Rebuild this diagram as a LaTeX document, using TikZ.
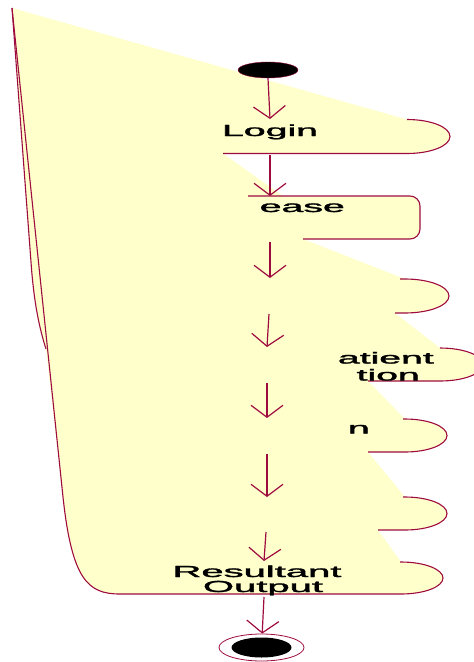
\documentclass[tikz,border=0pt]{standalone}
\usepackage{fontspec}
\setmainfont{Liberation Sans}
\newfontfamily\actfont{Liberation Sans}[FakeBold=1.6]
\usepackage{graphicx}
\usetikzlibrary{arrows.meta,shapes.geometric}
\definecolor{roseline}{HTML}{9E0B3F}
\definecolor{rosefill}{HTML}{FFFFCC}

\begin{document}
\begin{tikzpicture}[
  x=1pt,
  y=-1pt,
  actfill/.style={fill=rosefill},
  actedge/.style={draw=roseline, line width=1.1pt},
  flow/.style={draw=roseline, line width=1.2pt, -{Straight Barb[length=12pt, width=32pt]}},
  startdot/.style={ellipse, draw=roseline, fill=black, minimum width=60pt, minimum height=16pt, inner sep=0pt},
  endring/.style={ellipse, draw=roseline, fill=white, line width=0.8pt, minimum width=85pt, minimum height=27pt, inner sep=0pt},
  enddot/.style={ellipse, fill=black, minimum width=60pt, minimum height=20pt, inner sep=0pt},
  actlabel/.style={font=\actfont\fontsize{16}{16}\selectfont, inner sep=0pt}
]
\useasboundingbox (0,0) rectangle (474,662);

\fill[actfill] (12,8) -- (407,119.5)
  arc[start angle=90, end angle=-90, x radius=43pt, y radius=17pt]
  -- (223,153.5) -- (283,196) -- (410,196)
  arc[start angle=90, end angle=0, radius=10pt] -- (420,229)
  arc[start angle=0, end angle=-90, radius=10pt] -- (303,239) -- (405,279)
  arc[start angle=90, end angle=-90, x radius=44pt, y radius=17pt]
  -- (395,313) -- (440,348)
  arc[start angle=90, end angle=-90, x radius=43pt, y radius=16.5pt]
  -- (368,381) -- (405,419)
  arc[start angle=90, end angle=-90, x radius=42pt, y radius=16.5pt]
  -- (368,452) -- (405,497)
  arc[start angle=90, end angle=-90, x radius=42pt, y radius=16.5pt]
  -- (378,530) -- (401,562)
  arc[start angle=90, end angle=-90, x radius=42pt, y radius=16pt]
  -- (120,594) .. controls (88,594) and (72,580) .. (63,497)
  -- (46,349) .. controls (40,330) and (34,305) .. (31,262) -- cycle;

\draw[actedge] (12,8) -- (31,262) .. controls (34,305) and (40,330) .. (46,349);
\draw[actedge] (407,119.5) arc[start angle=90, end angle=-90, x radius=43pt, y radius=17pt] -- (223,153.5);
\draw[actedge] (248,196) -- (410,196) arc[start angle=90, end angle=0, radius=10pt] -- (420,229)
  arc[start angle=0, end angle=-90, radius=10pt] -- (303,239);
\draw[actedge] (400,279) -- (405,279) arc[start angle=90, end angle=-90, x radius=44pt, y radius=17pt] -- (395,313);
\draw[actedge] (440,348) arc[start angle=90, end angle=-90, x radius=43pt, y radius=16.5pt] -- (368,381);
\draw[actedge] (403,419) -- (405,419) arc[start angle=90, end angle=-90, x radius=42pt, y radius=16.5pt] -- (368,452);
\draw[actedge] (403,497) -- (405,497) arc[start angle=90, end angle=-90, x radius=42pt, y radius=16.5pt] -- (378,530);
\draw[actedge] (400,562) -- (401,562) arc[start angle=90, end angle=-90, x radius=42pt, y radius=16pt]
  -- (120,594) .. controls (88,594) and (72,580) .. (63,497) -- (12,8);

\node[actlabel, anchor=base] (login) at (270,136) {\scalebox{2.45}[1]{Login}};
\node[actlabel, anchor=base east] (ease) at (345,212) {\scalebox{2.45}[1]{ease}};
\node[actlabel, anchor=base east] (patient) at (434,363.5) {\scalebox{2.45}[1]{atient}};
\node[actlabel, anchor=base east] (patientb) at (420,380.5) {\scalebox{2.45}[1]{tion}};
\node[actlabel, anchor=base east] (lastn) at (370,433.5) {\scalebox{2.45}[1]{n}};
\node[actlabel, anchor=base] (result) at (257,577) {\scalebox{2.5}[1]{Resultant}};
\node[actlabel, anchor=base] (resultb) at (263,592) {\scalebox{2.5}[1]{Output}};

\node[startdot] (start) at (268,70) {};
\node[endring] (finish) at (261.5,647.5) {};
\node[enddot] (finishdot) at (finish) {};

\coordinate (a1in) at (270,119);
\coordinate (a1out) at (270,155);
\coordinate (a2in) at (270,196);
\coordinate (a2out) at (270,242);
\coordinate (a3in) at (270,278);
\coordinate (a3out) at (269,314);
\coordinate (a4in) at (267,347);
\coordinate (a4out) at (267,383);
\coordinate (a5in) at (267,418);
\coordinate (a5out) at (267,454);
\coordinate (a6in) at (267,497);
\coordinate (a6out) at (266,532);
\coordinate (a7in) at (264,561);
\coordinate (a7out) at (264,597);

\draw[flow] (start.south) -- (a1in);
\draw[flow] (a1out) -- (a2in);
\draw[flow] (a2out) -- (a3in);
\draw[flow] (a3out) -- (a4in);
\draw[flow] (a4out) -- (a5in);
\draw[flow] (a5out) -- (a6in);
\draw[flow] (a6out) -- (a7in);
\draw[flow] (a7out) -- (finish);
\end{tikzpicture}
\end{document}
